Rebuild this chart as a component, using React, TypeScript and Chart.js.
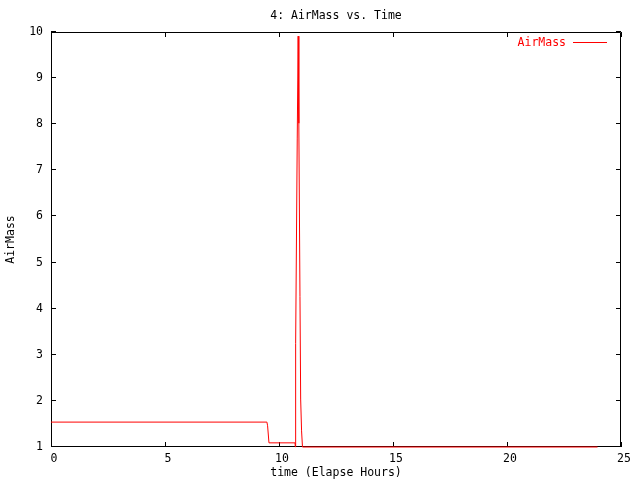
import React, { useEffect, useRef } from "react";
import { Chart, registerables } from "chart.js";

Chart.register(...registerables);

const chartTitle = "4: AirMass vs. Time";
const xAxisTitle = "time (Elapse Hours)";
const yAxisTitle = "AirMass";
const seriesLabel = "AirMass";

const timeHours = [
  0, 9.47, 9.5, 9.56, 10.7, 10.72, 10.73, 10.8, 10.84, 10.87, 10.92, 10.95, 10.99, 11.03, 23.97,
];
const airMass = [
  1.54, 1.54, 1.46, 1.09, 1.09, 1.0, 3.24, 7.7, 9.91, 8.02, 4.26, 2.04, 1.35, 1.0, 1.0,
];

const xMin = 0;
const xMax = 25;
const xStep = 5;
const yMin = 1;
const yMax = 10;
const yStep = 1;

const FONT = "'DejaVu Sans Mono', monospace";
const FONT_SIZE = 11.5;

const framePlugin = {
  id: "gnuFrame",
  beforeDatasetsDraw(chart: any) {
    const { ctx, chartArea, scales } = chart;
    const { left, right, top, bottom } = chartArea;
    ctx.save();
    ctx.strokeStyle = "#000000";
    ctx.lineWidth = 1;
    ctx.beginPath();
    ctx.rect(left + 0.5, top + 0.5, right - left - 1, bottom - top - 1);
    ctx.stroke();
    const tl = 5;
    ctx.beginPath();
    scales.x.ticks.forEach((t: any) => {
      const px = Math.round(scales.x.getPixelForValue(t.value)) + 0.5;
      ctx.moveTo(px, bottom);
      ctx.lineTo(px, bottom - tl);
      ctx.moveTo(px, top);
      ctx.lineTo(px, top + tl);
    });
    scales.y.ticks.forEach((t: any) => {
      const py = Math.round(scales.y.getPixelForValue(t.value)) - 0.5;
      ctx.moveTo(left, py);
      ctx.lineTo(left + tl, py);
      ctx.moveTo(right, py);
      ctx.lineTo(right - tl, py);
    });
    ctx.stroke();
    ctx.restore();
  },
  afterDraw(chart: any) {
    const { ctx, chartArea } = chart;
    const { left, right } = chartArea;
    ctx.save();
    ctx.fillStyle = "#000000";
    ctx.font = `${FONT_SIZE}px ${FONT}`;
    ctx.textAlign = "center";
    ctx.textBaseline = "middle";
    ctx.fillText(chartTitle, (left + right) / 2, 16);

    const ds = chart.data.datasets[0];
    ctx.fillStyle = ds.borderColor;
    ctx.textAlign = "right";
    ctx.fillText(ds.label, 566, 43);
    ctx.strokeStyle = ds.borderColor;
    ctx.lineWidth = 1;
    ctx.beginPath();
    ctx.moveTo(573, 42.5);
    ctx.lineTo(607, 42.5);
    ctx.stroke();
    ctx.restore();
  },
};

export default function App() {
  const canvasRef = useRef<HTMLCanvasElement | null>(null);

  useEffect(() => {
    document.body.style.margin = "0";
    const canvas = canvasRef.current;
    if (!canvas) return;
    const chart = new Chart(canvas, {
      type: "line",
      data: {
        datasets: [
          {
            label: seriesLabel,
            data: timeHours.map((t, i) => ({ x: t, y: airMass[i] })),
            borderColor: "#ff0000",
            borderWidth: 1,
            pointRadius: 0,
            tension: 0,
            fill: false,
            clip: 3,
          },
        ],
      },
      options: {
        animation: false,
        responsive: false,
        maintainAspectRatio: false,
        devicePixelRatio: 1,
        layout: { padding: { top: 32, right: 19, left: 0, bottom: 0 } },
        plugins: {
          legend: { display: false },
          title: { display: false },
          tooltip: { enabled: false },
        },
        scales: {
          x: {
            type: "linear",
            min: xMin,
            max: xMax,
            grid: { display: false, drawTicks: false },
            border: { display: false },
            ticks: {
              stepSize: xStep,
              padding: 5,
              labelOffset: 3,
              color: "#000000",
              font: { family: FONT, size: FONT_SIZE },
              maxRotation: 0,
            },
            title: {
              display: true,
              text: xAxisTitle,
              color: "#000000",
              font: { family: FONT, size: FONT_SIZE },
              padding: { top: 0, bottom: 0 },
            },
            afterFit(scale: any) {
              scale.height = 33;
            },
          },
          y: {
            type: "linear",
            min: yMin,
            max: yMax,
            grid: { display: false, drawTicks: false },
            border: { display: false },
            ticks: {
              stepSize: yStep,
              padding: 8,
              color: "#000000",
              font: { family: FONT, size: FONT_SIZE },
            },
            title: {
              display: true,
              text: yAxisTitle,
              color: "#000000",
              font: { family: FONT, size: FONT_SIZE },
              padding: { top: 4, bottom: 0 },
            },
            afterFit(scale: any) {
              scale.width = 51;
            },
          },
        },
      },
      plugins: [framePlugin],
    });
    return () => chart.destroy();
  }, []);

  return (
    <div style={{ width: 640, height: 480, background: "#ffffff" }}>
      <canvas ref={canvasRef} width={640} height={480} />
    </div>
  );
}
